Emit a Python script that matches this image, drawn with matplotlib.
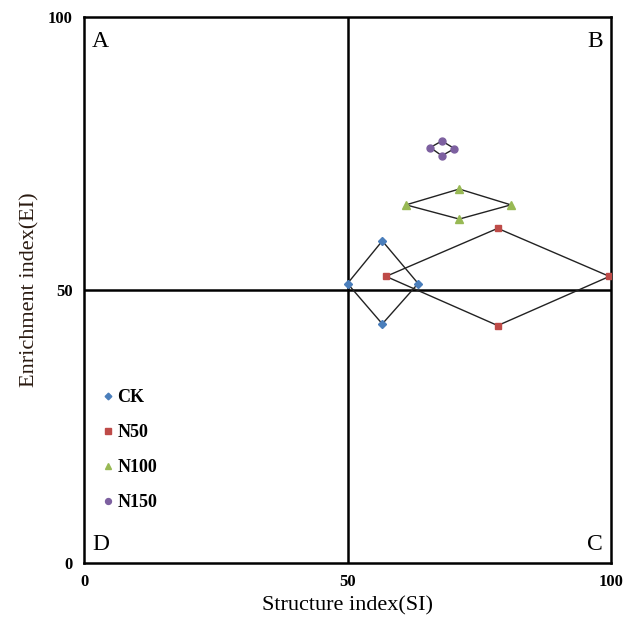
import matplotlib.pyplot as plt

# diamond vertices in order: left, top, right, bottom
ck_si = [50.0, 56.6, 63.4, 56.6]
ck_ei = [51.2, 59.0, 51.2, 43.8]
n50_si = [57.3, 78.5, 99.7, 78.5]
n50_ei = [52.5, 61.3, 52.5, 43.5]
n100_si = [61.1, 71.2, 81.0, 71.2]
n100_ei = [65.6, 68.5, 65.6, 63.0]
n150_si = [65.7, 67.9, 70.3, 67.9]
n150_ei = [76.1, 77.3, 75.9, 74.6]

series = [
    ('CK', ck_si, ck_ei, 'D', '#4a7ebb', 4),
    ('N50', n50_si, n50_ei, 's', '#be4b48', 5),
    ('N100', n100_si, n100_ei, '^', '#98b954', 5.5),
    ('N150', n150_si, n150_ei, 'o', '#7d60a0', 5),
]

serif = ['Liberation Serif', 'DejaVu Serif']

fig = plt.figure(figsize=(6.27, 6.25), dpi=100)
ax = fig.add_axes([0.134, 0.099, 0.8405, 0.8738])

for name, si, ei, mk, col, ms in series:
    # closed outline of the diamond
    ax.plot(si + si[:1], ei + ei[:1], color='#222222', lw=1.0, zorder=2)
    ax.plot(si, ei, linestyle='none', marker=mk, color=col, ms=ms,
            zorder=3, label=name)

ax.axvline(50, color='black', lw=1.8, zorder=1)
ax.axhline(50, color='black', lw=1.8, zorder=1)

ax.set_xlim(0, 100)
ax.set_ylim(0, 100)
ax.set_xticks([0, 50, 100])
ax.set_yticks([0, 50, 100])
for sp in ax.spines.values():
    sp.set_linewidth(1.8)
ax.tick_params(length=0, pad=8)
for lab in ax.get_xticklabels() + ax.get_yticklabels():
    lab.set_family(serif)
    lab.set_fontweight('bold')
    lab.set_fontsize(12)

ax.set_xlabel('Structure index(SI)', family=serif, fontsize=16, labelpad=4)
ax.set_ylabel('Enrichment index(EI)', family=serif, fontsize=16,
              color='#2a1a10', labelpad=6)

for txt, x, y, ha, va in [('A', 0.015, 0.975, 'left', 'top'),
                          ('B', 0.985, 0.975, 'right', 'top'),
                          ('C', 0.985, 0.015, 'right', 'bottom'),
                          ('D', 0.015, 0.015, 'left', 'bottom')]:
    ax.text(x, y, txt, transform=ax.transAxes, ha=ha, va=va,
            family=serif, fontsize=17)

leg = ax.legend(loc='upper left', bbox_to_anchor=(0.0, 0.348), frameon=False,
                prop={'family': serif, 'weight': 'bold', 'size': 13},
                labelspacing=1.0, handletextpad=0.05, handlelength=0.9,
                markerscale=0.85)

fig.savefig('out.png', dpi=100)
